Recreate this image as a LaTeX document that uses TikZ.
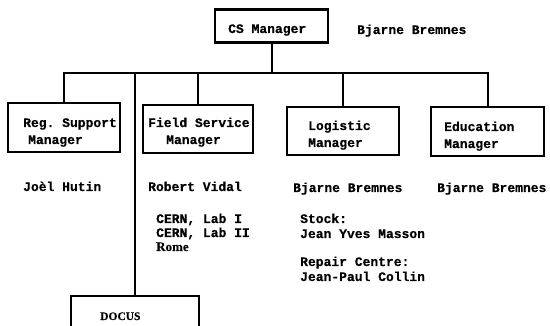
\documentclass[tikz,border=0pt]{standalone}
\usepackage{fontspec}
\setmonofont{Liberation Mono}[FakeBold=0.35]
\newfontfamily\serifrm{Liberation Serif}[FakeBold=0.3]
\begin{document}
\begin{tikzpicture}[x=1pt,y=-1pt,
  box/.style={draw, line width=2.4pt, rectangle, inner sep=0pt},
  conn/.style={draw, line width=2pt},
  txt/.style={anchor=base west, inner sep=0pt, font=\fontsize{13}{15}\selectfont\ttfamily\bfseries},
  srf/.style={anchor=base west, inner sep=0pt}]
\clip (0,0) rectangle (550,326);
\fill[white] (0,0) rectangle (550,326);
% boxes
\node[box, minimum width=113pt, minimum height=33pt] (cs) at (271.5,26) {};
\node[box, minimum width=112pt, minimum height=49pt] (reg) at (64,127.5) {};
\node[box, minimum width=110pt, minimum height=48pt] (field) at (198,129) {};
\node[box, minimum width=112pt, minimum height=48pt] (log) at (343,131) {};
\node[box, minimum width=113pt, minimum height=49pt] (edu) at (487.5,131.5) {};
\node[box, minimum width=128pt, minimum height=60pt] (docus) at (135,326) {};
% bus
\coordinate (busL) at (64,73);
\coordinate (busR) at (487.5,73);
\draw[conn] (reg.north) -- (busL) -- (busR) -- (edu.north);
\draw[conn] (cs.south) -- (cs.south |- busL);
\draw[conn] (field.north) -- (field.north |- busL);
\draw[conn] (log.north) -- (log.north |- busL);
\draw[conn] (docus.north) -- (docus.north |- busL);
% box texts
\node[txt] (tcs) at (228,33) {CS Manager};
\node[txt] (tbb0) at (357,34) {Bjarne Bremnes};
\node[txt] (treg1) at (23,127) {Reg. Support};
\node[txt] (treg2) at (28,144) {Manager};
\node[txt] (tfld1) at (148,127) {Field Service};
\node[txt] (tfld2) at (166,144) {Manager};
\node[txt] (tlog1) at (308,130) {Logistic};
\node[txt] (tlog2) at (308,147) {Manager};
\node[txt] (tedu1) at (444,131) {Education};
\node[txt] (tedu2) at (444,148) {Manager};
% names
\node[txt] (tjh) at (23,191) {Joèl Hutin};
\node[txt] (trv) at (148,191) {Robert Vidal};
\node[txt] (tbb1) at (293,192) {Bjarne Bremnes};
\node[txt] (tbb2) at (437,192) {Bjarne Bremnes};
% lists
\node[txt] (tc1) at (156,223) {CERN, Lab I};
\node[txt] (tc2) at (156,237) {CERN, Lab II};
\node[srf, font=\serifrm\bfseries\fontsize{13}{15}\selectfont] (tro) at (156,251) {Rome};
\node[txt] (tst) at (300,223) {Stock:};
\node[txt] (tjym) at (300,238) {Jean Yves Masson};
\node[txt] (trc) at (300,266) {Repair Centre:};
\node[txt] (tjpc) at (300,281) {Jean-Paul Collin};
\node[srf, font=\serifrm\bfseries\fontsize{11.5}{14}\selectfont] (tdoc) at (100,320) {DOCUS};
\end{tikzpicture}
\end{document}
